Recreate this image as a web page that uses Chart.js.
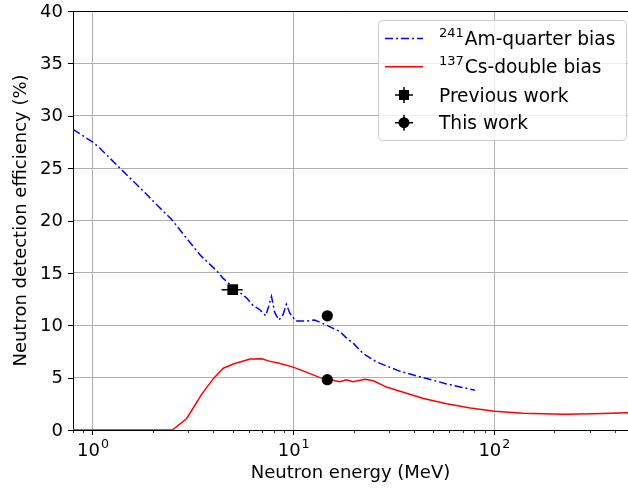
<!DOCTYPE html>
<html>
<head>
<meta charset="utf-8">
<script src="https://cdn.jsdelivr.net/npm/chart.js@4/dist/chart.umd.min.js"></script>
<style>
  html, body { margin: 0; padding: 0; background: #fff; }
  #chart { display: block; }
</style>
</head>
<body>
<canvas id="chart" width="628" height="489"></canvas>
<script>
  // blue dash-dot curve, 241Am quarter bias
  const amEnergy = [0.8, 1.0, 1.09, 1.37, 1.73, 2.17, 2.48, 2.89, 3.44, 4.16, 4.47, 4.96, 5.87, 6.3, 6.8, 7.3, 7.55, 7.8, 8.1, 8.5, 8.9, 9.25, 9.6, 10.3, 11.6, 12.8, 14.7, 17.1, 18.4, 19.9, 22.3, 26.0, 34.1, 44.4, 58.2, 80.4]
  const amEff = [28.7, 27.5, 26.9, 25.0, 23.1, 21.2, 20.1, 18.5, 16.7, 15.2, 14.5, 13.7, 12.6, 11.9, 11.5, 10.9, 11.8, 12.75, 11.2, 10.5, 11.0, 12.0, 11.2, 10.4, 10.4, 10.5, 10.0, 9.4, 8.8, 8.3, 7.3, 6.5, 5.6, 5.0, 4.4, 3.8]

  // red solid curve, 137Cs double bias
  const csEnergy = [0.8, 2.5, 2.95, 3.5, 4.0, 4.49, 5.03, 6.1, 6.97, 7.67, 8.43, 10.0, 11.7, 13.6, 15.3, 17.1, 18.4, 19.9, 22.8, 25.1, 29.2, 34.1, 44.6, 58.2, 76.4, 101, 140, 222, 313, 466]
  const csEff = [0, 0, 1.1, 3.4, 4.9, 5.9, 6.3, 6.77, 6.8, 6.55, 6.4, 6.0, 5.5, 5.0, 4.8, 4.6, 4.8, 4.6, 4.85, 4.7, 4.1, 3.7, 3.0, 2.5, 2.1, 1.8, 1.6, 1.5, 1.55, 1.65]

  // measured points
  const prevEnergy = [5.0]
  const prevEff = [13.4]
  const prevEnergyLo = [4.4]
  const prevEnergyHi = [5.6]
  const prevEffErr = [0.45]
  const thisEnergy = [14.8, 14.8]
  const thisEff = [10.9, 4.8]

  // axes
  const xMin = 0.8, xMax = 466
  const xMajor = [1, 10, 100]
  const xMajorExp = ['0', '1', '2']
  const xMinor = [0.8, 0.9, 2, 3, 4, 5, 6, 7, 8, 9, 20, 30, 40, 50, 60, 70, 80, 90, 200, 300, 400]
  const yTicks = [0, 5, 10, 15, 20, 25, 30, 35, 40]

  const FONT = '"DejaVu Sans", sans-serif'
  const FS = 18
  const FSUP = 12.6
  const FLEG = 18.6

  function pts(xs, ys){
    return xs.map((x, i) => ({x: x, y: ys[i]}))
  }

  const axisPlugin = {
    id: 'axisStuff',
    beforeDatasetsDraw(chart){   // major grid on x
      const ctx = chart.ctx, a = chart.chartArea, xs = chart.scales.x
      ctx.save()
      ctx.strokeStyle = '#b0b0b0'
      ctx.lineWidth = 1
      xMajor.forEach(v => {
        const px = Math.round(xs.getPixelForValue(v)) + 0.5
        ctx.beginPath(); ctx.moveTo(px, a.top); ctx.lineTo(px, a.bottom); ctx.stroke()
      })
      ctx.restore()
    },
    afterDatasetsDraw(chart){    // error bars of previous work
      const ctx = chart.ctx, xs = chart.scales.x, ys = chart.scales.y
      ctx.save()
      ctx.strokeStyle = '#000'
      ctx.lineWidth = 1.5
      prevEnergy.forEach((e, i) => {
        const px = xs.getPixelForValue(e), py = ys.getPixelForValue(prevEff[i])
        ctx.beginPath()
        ctx.moveTo(xs.getPixelForValue(prevEnergyLo[i]), py)
        ctx.lineTo(xs.getPixelForValue(prevEnergyHi[i]), py)
        ctx.moveTo(px, ys.getPixelForValue(prevEff[i] - prevEffErr[i]))
        ctx.lineTo(px, ys.getPixelForValue(prevEff[i] + prevEffErr[i]))
        ctx.stroke()
      })
      ctx.restore()
    },
    afterDraw(chart){
      const ctx = chart.ctx, a = chart.chartArea, xs = chart.scales.x, ys = chart.scales.y
      ctx.save()
      // top spine
      ctx.strokeStyle = '#000'
      ctx.lineWidth = 1
      ctx.beginPath(); ctx.moveTo(a.left, a.top + 0.5); ctx.lineTo(a.right, a.top + 0.5); ctx.stroke()

      // x ticks
      xMajor.forEach(v => {
        const px = Math.round(xs.getPixelForValue(v)) + 0.5
        ctx.beginPath(); ctx.moveTo(px, a.bottom); ctx.lineTo(px, a.bottom + 5); ctx.stroke()
      })
      ctx.lineWidth = 0.8
      xMinor.forEach(v => {
        const px = Math.round(xs.getPixelForValue(v)) + 0.5
        ctx.beginPath(); ctx.moveTo(px, a.bottom); ctx.lineTo(px, a.bottom + 3); ctx.stroke()
      })
      // y ticks
      ctx.lineWidth = 1
      yTicks.forEach(v => {
        const py = Math.round(ys.getPixelForValue(v)) + 0.5
        ctx.beginPath(); ctx.moveTo(a.left - 5, py); ctx.lineTo(a.left, py); ctx.stroke()
      })

      ctx.fillStyle = '#000'
      // y tick labels
      ctx.font = FS + 'px ' + FONT
      ctx.textAlign = 'right'
      ctx.textBaseline = 'middle'
      yTicks.forEach(v => {
        ctx.fillText(String(v), a.left - 10, ys.getPixelForValue(v) + 1)
      })
      // x tick labels 10^n
      ctx.textBaseline = 'alphabetic'
      ctx.textAlign = 'left'
      xMajor.forEach((v, i) => {
        const px = xs.getPixelForValue(v)
        ctx.font = FS + 'px ' + FONT
        const w1 = ctx.measureText('10').width
        ctx.font = FSUP + 'px ' + FONT
        const w2 = ctx.measureText(xMajorExp[i]).width
        const x0 = px - (w1 + w2) / 2
        ctx.font = FS + 'px ' + FONT
        ctx.fillText('10', x0, 456)
        ctx.font = FSUP + 'px ' + FONT
        ctx.fillText(xMajorExp[i], x0 + w1 + 1, 448)
      })
      // axis titles
      ctx.font = FS + 'px ' + FONT
      ctx.textAlign = 'center'
      ctx.fillText('Neutron energy (MeV)', (a.left + a.right) / 2, 478)
      ctx.save()
      ctx.translate(26, (a.top + a.bottom) / 2)
      ctx.rotate(-Math.PI / 2)
      ctx.fillText('Neutron detection efficiency (%)', 0, 0)
      ctx.restore()

      drawLegend(ctx)
      ctx.restore()
    }
  }

  function roundRect(ctx, x, y, w, h, r){
    ctx.beginPath()
    ctx.moveTo(x + r, y)
    ctx.lineTo(x + w - r, y); ctx.arcTo(x + w, y, x + w, y + r, r)
    ctx.lineTo(x + w, y + h - r); ctx.arcTo(x + w, y + h, x + w - r, y + h, r)
    ctx.lineTo(x + r, y + h); ctx.arcTo(x, y + h, x, y + h - r, r)
    ctx.lineTo(x, y + r); ctx.arcTo(x, y, x + r, y, r)
    ctx.closePath()
  }

  function drawLegend(ctx){
    const bx = 378.5, by = 20.5, bw = 248, bh = 120
    roundRect(ctx, bx, by, bw, bh, 4)
    ctx.fillStyle = 'rgba(255,255,255,0.8)'
    ctx.fill()
    ctx.strokeStyle = '#cccccc'
    ctx.lineWidth = 1
    ctx.stroke()

    const rows = [38.5, 66.7, 95, 122.7]
    const tx = 439
    // line swatches
    ctx.lineWidth = 1.5
    ctx.strokeStyle = '#0000ff'
    ctx.setLineDash([8, 3, 2, 3])
    ctx.beginPath(); ctx.moveTo(385, rows[0]); ctx.lineTo(423, rows[0]); ctx.stroke()
    ctx.setLineDash([])
    ctx.strokeStyle = '#ff0000'
    ctx.beginPath(); ctx.moveTo(385, rows[1]); ctx.lineTo(423, rows[1]); ctx.stroke()
    // marker swatches
    ctx.strokeStyle = '#000'
    ctx.fillStyle = '#000'
    ;[rows[2], rows[3]].forEach((ry, k) => {
      ctx.beginPath()
      ctx.moveTo(395, ry); ctx.lineTo(413, ry)
      ctx.moveTo(404, ry - 8); ctx.lineTo(404, ry + 8)
      ctx.stroke()
      if(k === 0){
        ctx.fillRect(399, ry - 5, 10, 10)
      } else {
        ctx.beginPath(); ctx.arc(404, ry, 5.5, 0, Math.PI * 2); ctx.fill()
      }
    })
    // texts
    ctx.textAlign = 'left'
    ctx.textBaseline = 'alphabetic'
    const labels = [['241', 'Am-quarter bias'], ['137', 'Cs-double bias'], ['', 'Previous work'], ['', 'This work']]
    labels.forEach((l, i) => {
      let x = tx
      const base = rows[i] + 6.5
      if(l[0]){
        ctx.font = '13px ' + FONT
        ctx.fillText(l[0], x, base - 8)
        x += ctx.measureText(l[0]).width + 1
      }
      ctx.font = FLEG + 'px ' + FONT
      ctx.fillText(l[1], x, base)
    })
  }

  const config = {
    type: 'line',
    data: {
      datasets: [
        {
          label: 'Previous work',
          data: pts(prevEnergy, prevEff),
          showLine: false,
          pointStyle: 'rect',
          pointRadius: 7.6,
          backgroundColor: '#000',
          borderColor: '#000',
          borderWidth: 0,
          order: 0
        },
        {
          label: 'This work',
          data: pts(thisEnergy, thisEff),
          showLine: false,
          pointStyle: 'circle',
          pointRadius: 5.6,
          backgroundColor: '#000',
          borderColor: '#000',
          borderWidth: 0,
          order: 0
        },
        {
          label: '241Am-quarter bias',
          data: pts(amEnergy, amEff),
          borderColor: '#0000ff',
          borderWidth: 1.5,
          borderDash: [8, 3, 2, 3],
          pointRadius: 0,
          tension: 0,
          fill: false,
          order: 2
        },
        {
          label: '137Cs-double bias',
          data: pts(csEnergy, csEff),
          borderColor: '#ff0000',
          borderWidth: 1.5,
          pointRadius: 0,
          tension: 0,
          fill: false,
          order: 1
        }
      ]
    },
    options: {
      responsive: false,
      animation: false,
      devicePixelRatio: 1,
      layout: { autoPadding: false, padding: { top: 11, left: 0, right: 0, bottom: 0 } },
      plugins: { legend: { display: false }, tooltip: { enabled: false } },
      scales: {
        x: {
          type: 'logarithmic',
          min: xMin,
          max: xMax,
          afterFit(s){ s.height = 59; s.paddingLeft = 0; s.paddingRight = 0 },
          ticks: { display: false },
          grid: { display: false, drawTicks: false },
          border: { display: true, color: '#000', width: 1 }
        },
        y: {
          min: 0,
          max: 40,
          afterFit(s){ s.width = 73; s.paddingTop = 0; s.paddingBottom = 0 },
          ticks: { display: false, stepSize: 5 },
          grid: { color: '#b0b0b0', lineWidth: 1, drawTicks: false },
          border: { display: true, color: '#000', width: 1 }
        }
      }
    },
    plugins: [axisPlugin]
  }

  const myChart = new Chart(document.getElementById('chart'), config)
</script>
</body>
</html>
